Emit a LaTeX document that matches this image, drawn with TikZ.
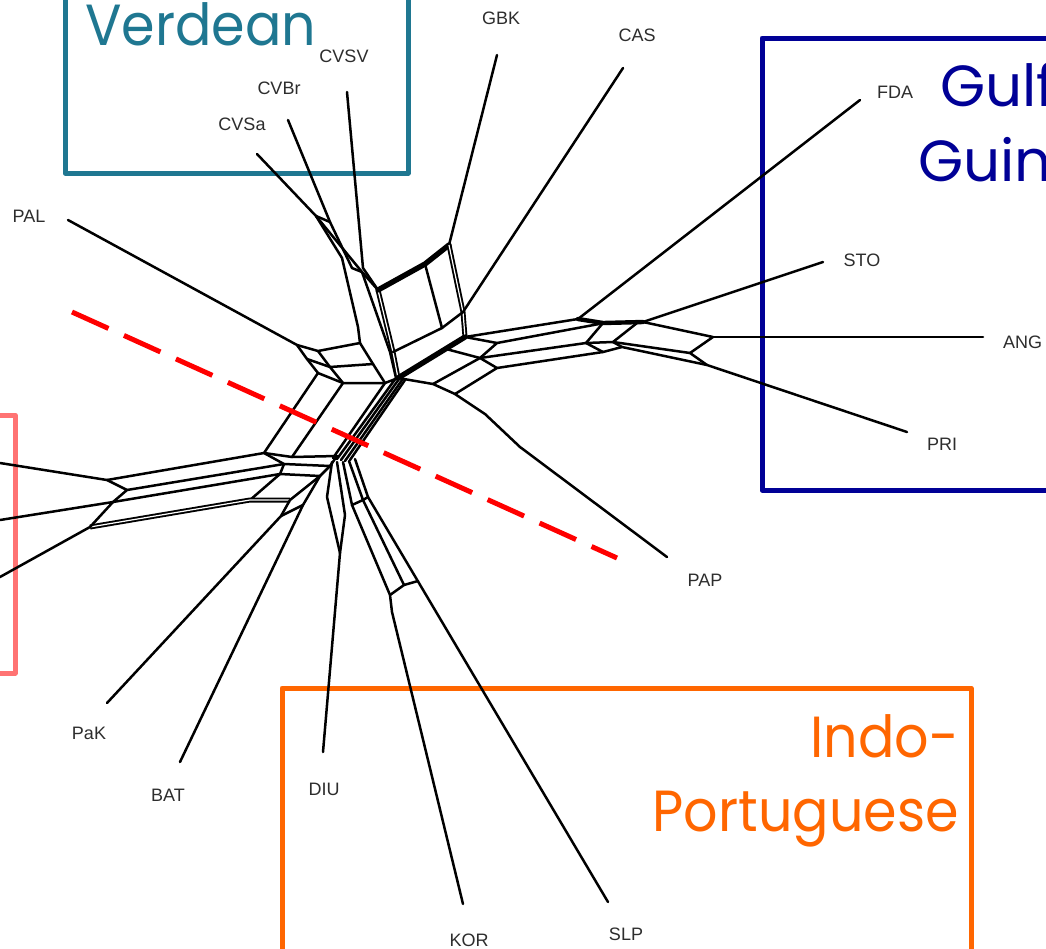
\documentclass[tikz,border=0pt]{standalone}
\usepackage{fontspec}
\newfontfamily\taxonfont{Liberation Sans}
\newfontfamily\regionfont[FakeStretch=0.93]{Poppins}
\newfontfamily\regionwidefont{Poppins}
\definecolor{verdeanblue}{RGB}{31,119,145}
\definecolor{gulfblue}{RGB}{0,0,150}
\definecolor{indoorange}{RGB}{255,102,0}
\definecolor{upperpink}{RGB}{255,115,115}
\definecolor{taxongray}{RGB}{45,45,45}
\definecolor{splitred}{RGB}{255,0,0}

\begin{document}
\begin{tikzpicture}[x=1pt,y=-1pt,
  net/.style={line width=2.5pt, line join=round, line cap=round},
  netbold/.style={line width=5.4pt, line join=round, line cap=round},
  netdouble/.style={line width=1.9pt, double, double distance=1.2pt, line join=round},
  taxon/.style={font=\taxonfont\fontsize{18}{20}\selectfont, text=taxongray, inner sep=0pt},
  region/.style={line width=5pt, line join=round},
  regionlabel/.style={font=\regionfont\fontsize{58}{60}\selectfont, inner sep=0pt, anchor=base east},
  gulflabel/.style={font=\regionwidefont\fontsize{58}{60}\selectfont, inner sep=0pt, anchor=base west, text=gulfblue},
]
\useasboundingbox (0,0) rectangle (1046,948);
\clip (0,0) rectangle (1046,948);
\fill[white] (0,0) rectangle (1046,948);

% ---------- region frames ----------
\draw[region, verdeanblue] (65,-20) -- (65,173) -- (408,173) -- (408,-20);
\draw[region, gulfblue] (1070,38) -- (762,38) -- (762,490) -- (1070,490);
\draw[region, upperpink] (-20,415) -- (15,415) -- (15,673) -- (-20,673);
\draw[region, indoorange] (282,970) -- (282,688) -- (971,688) -- (971,970);

\node[regionlabel, text=verdeanblue, anchor=base west] (verdean) at (85,45) {Verdean};
\node[gulflabel] (gulf1) at (940,106) {Gulf of};
\node[gulflabel] (gulf2) at (918,181) {Guinea};
\node[regionlabel, text=indoorange] (indo1) at (959,757) {Indo-};
\node[regionlabel, text=indoorange] (indo2) at (959,831) {Portuguese};

% ---------- taxon labels ----------
\node[taxon] (GBK) at (501,18) {GBK};
\node[taxon] (CAS) at (637,35) {CAS};
\node[taxon] (CVSV) at (344,56) {CVSV};
\node[taxon] (CVBr) at (279,88) {CVBr};
\node[taxon] (CVSa) at (242,124) {CVSa};
\node[taxon] (PAL) at (29,216) {PAL};
\node[taxon] (FDA) at (895,92) {FDA};
\node[taxon] (STO) at (862,260) {STO};
\node[taxon, anchor=west] (ANG) at (1003,342) {ANG};
\node[taxon] (PRI) at (942,444) {PRI};
\node[taxon] (PAP) at (705,580) {PAP};
\node[taxon] (PaK) at (89,733) {PaK};
\node[taxon] (BAT) at (168,795) {BAT};
\node[taxon] (DIU) at (324,789) {DIU};
\node[taxon] (KOR) at (469,940) {KOR};
\node[taxon] (SLP) at (626,934) {SLP};

% ---------- leaf ends ----------
\coordinate (eGBK) at (497,55);
\coordinate (eCAS) at (623,68);
\coordinate (eCVSV) at (347,92);
\coordinate (eCVBr) at (288,120);
\coordinate (eCVSa) at (257,154);
\coordinate (ePAL) at (68,220);
\coordinate (eFDA) at (860,100);
\coordinate (eSTO) at (823,262);
\coordinate (eANG) at (983,337);
\coordinate (ePRI) at (907,432);
\coordinate (ePAP) at (667,557);
\coordinate (ePaK) at (107,703);
\coordinate (eBAT) at (180,762);
\coordinate (eDIU) at (323,752);
\coordinate (eKOR) at (463,904);
\coordinate (eSLP) at (608,902);

% ---------- network junctions ----------
\coordinate (hub) at (398,378);
\coordinate (cvA) at (316,216);
\coordinate (cvB) at (330,222);
\coordinate (cvJ) at (362,272);
\coordinate (boxTL) at (378,290);
\coordinate (boxTR) at (449,245);
\coordinate (boxR) at (463,312);
\coordinate (ra) at (465,337);
\coordinate (rb) at (497,343);
\coordinate (rc) at (480,358);
\coordinate (rd) at (446,349);
\coordinate (re) at (433,384);
\coordinate (rf) at (497,368);
\coordinate (rg) at (455,394);
\coordinate (jFDA) at (578,319);
\coordinate (jSTO) at (643,322);
\coordinate (jANG) at (713,337);
\coordinate (jPRI) at (707,365);
\coordinate (P0) at (297,345);
\coordinate (P1) at (318,351);
\coordinate (P2) at (360,343);
\coordinate (P3) at (307,359);
\coordinate (P4) at (330,367);
\coordinate (P5) at (373,364);
\coordinate (P6) at (318,373);
\coordinate (P7) at (343,383);
\coordinate (P8) at (385,383);
\coordinate (Q1) at (264,453);
\coordinate (Q1r) at (292,457);
\coordinate (Q2) at (284,464);
\coordinate (Q3) at (280,474);
\coordinate (Q4) at (250,500);
\coordinate (L1) at (107,480);
\coordinate (L2) at (127,490);
\coordinate (L3) at (113,502);
\coordinate (L4) at (90,527);
\coordinate (dTop) at (340,553);

% ---------- Cape Verdean cluster ----------
\draw[net] (eCVSV) -- (363,268) -- (boxTL);
\draw[net] (eCVBr) -- (cvB) -- (352,268) -- (cvJ);
\draw[net] (eCVSa) -- (cvA) -- (cvJ) -- (boxTL);
\draw[net] (cvA) -- (cvB);
\draw[net] (cvA) -- (342,258) -- (358,327) -- (P2);
\draw[net] (cvJ) -- (390,352) -- (396,378);
\draw[netdouble] (boxTL) -- (393,352) -- (hub);

% ---------- upper box ----------
\draw[netbold] (boxTL) -- (425,264) -- (boxTR);
\draw[net] (eGBK) -- (boxTR);
\draw[netdouble] (boxTR) -- (boxR) -- (ra);
\draw[net] (425,264) -- (442,328);
\draw[net] (393,352) -- (442,328) -- (boxR);
\draw[net] (eCAS) -- (boxR);
\draw[netbold] (hub) -- (ra);

% ---------- right band to the Gulf taxa ----------
\draw[net] (ra) -- (rb) -- (rc) -- (rd);
\draw[net] (hub) -- (re) -- (rg) -- (485,414) -- (520,447) -- (ePAP);
\draw[net] (re) -- (rc) -- (rf) -- (rg);
\draw[net] (ra) -- (jFDA);
\draw[net] (rb) -- (599,324);
\draw[net] (rc) -- (586,343);
\draw[net] (rf) -- (603,352);
\draw[line width=4.4pt, line cap=round] (jFDA) -- (603,323) -- (jSTO);
\draw[net] (603,323) -- (586,343) -- (603,352);
\draw[net] (586,343) -- (613,342) -- (690,353);
\draw[net] (603,352) -- (622,347) -- (jPRI);
\draw[net] (637,323) -- (613,342) -- (622,347);
\draw[net] (jSTO) -- (jANG) -- (690,353) -- (jPRI);
\draw[net] (jFDA) -- (eFDA);
\draw[net] (jSTO) -- (eSTO);
\draw[net] (jANG) -- (eANG);
\draw[net] (jPRI) -- (ePRI);

% ---------- PAL cluster ----------
\draw[net] (ePAL) -- (P0);
\draw[net] (P0) -- (P1) -- (P2);
\draw[net] (P3) -- (P4) -- (P5);
\draw[net] (P6) -- (P7) -- (P8);
\draw[net] (P0) -- (P3) -- (P6);
\draw[net] (P1) -- (P4) -- (P7);
\draw[net] (P2) -- (P5) -- (P8) -- (hub);

% ---------- central spine ----------
\draw[net] (P8) -- (333,458);
\draw[net] (396,378) -- (337,459);
\draw[net] (399,379) -- (341,460);
\draw[net] (402,380) -- (345,461);
\draw[net] (405,380) -- (350,460);

% ---------- band to the western taxa ----------
\draw[net] (P6) -- (Q1);
\draw[net] (P7) -- (Q1r);
\draw[net] (Q1) -- (Q1r) -- (337,456);
\draw[net] (L1) -- (Q1) -- (Q2) -- (Q3) -- (Q4);
\draw[net] (L2) -- (Q2) -- (330,466);
\draw[net] (L3) -- (Q3) -- (320,476);
\draw[netdouble] (L4) -- (Q4) -- (290,500);
\draw[net] (L1) -- (L2) -- (L3) -- (L4);
\draw[net] (0,463) -- (L1);
\draw[net] (0,520) -- (L3);
\draw[net] (0,577) -- (L4);
\draw[net] (337,456) -- (330,466) -- (320,476) -- (290,500);
\draw[net] (ePaK) -- (281,516) -- (290,500);
\draw[net] (eBAT) -- (303,505) -- (320,476);
\draw[net] (281,516) -- (303,505);

% ---------- southern taxa ----------
\draw[net] (eDIU) -- (dTop);
\draw[net] (dTop) -- (327,497) -- (332,462);
\draw[net] (dTop) -- (345,515) -- (337,462);
\draw[net] (343,462) -- (352,505) -- (390,595) -- (392,612) -- (eKOR);
\draw[net] (349,461) -- (363,500) -- (404,585);
\draw[net] (355,459) -- (368,497) -- (eSLP);
\draw[net] (352,505) -- (363,500) -- (368,497);
\draw[net] (390,595) -- (404,585) -- (418,581);

% ---------- split line ----------
\draw[splitred, line width=5pt, dash pattern=on 40pt off 17pt] (72,312) -- (617,558);
\end{tikzpicture}
\end{document}
